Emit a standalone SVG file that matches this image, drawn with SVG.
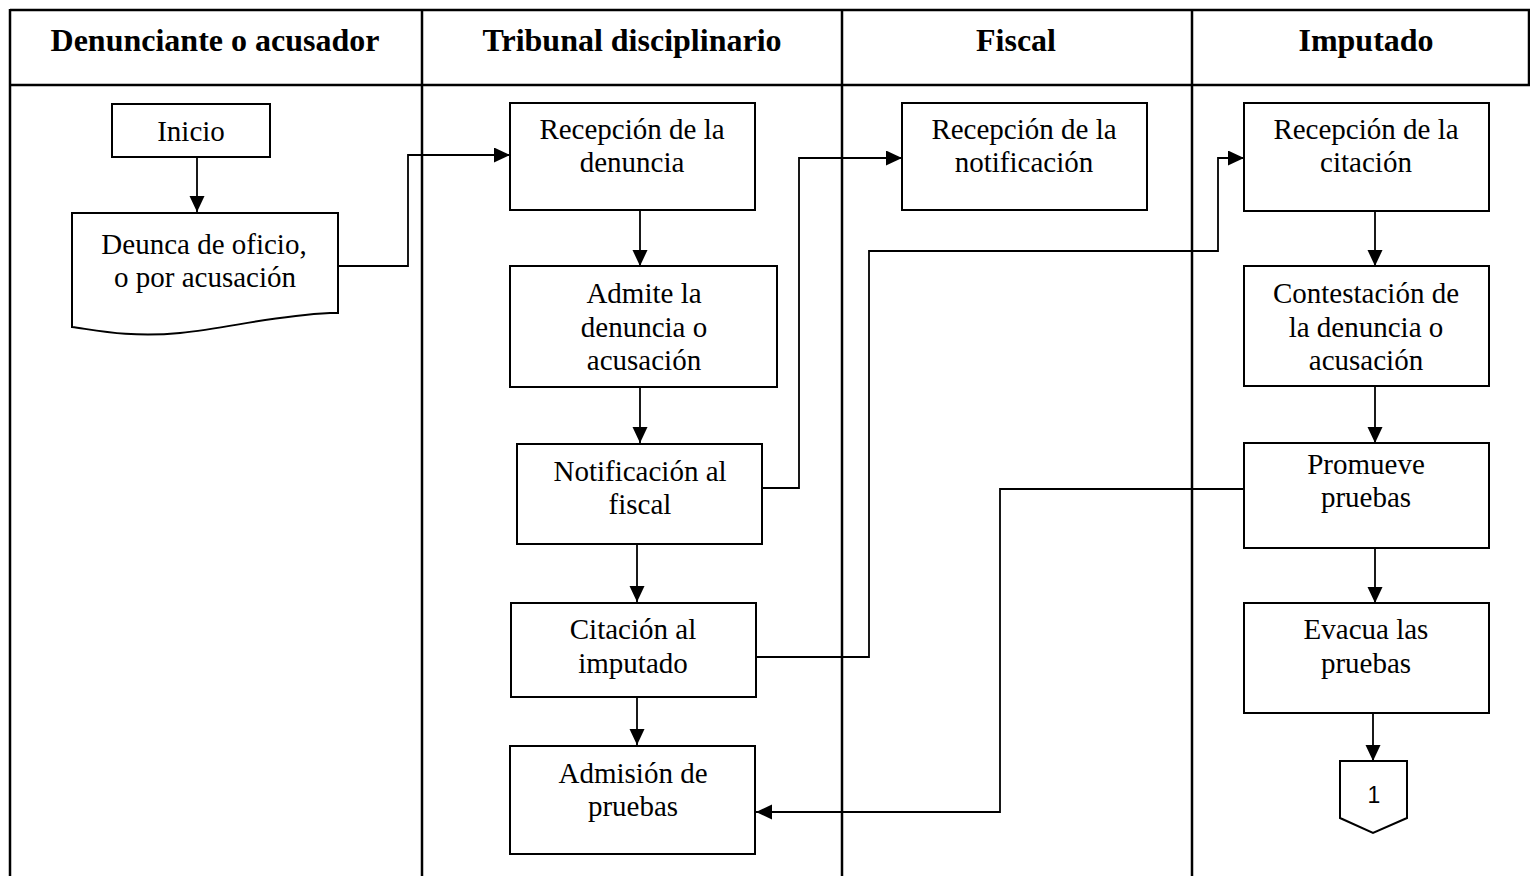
<svg xmlns="http://www.w3.org/2000/svg" width="1530" height="876" viewBox="0 0 1530 876">
<style>
.tbl{stroke:#000;stroke-width:2.5;fill:none}
.box{fill:#fff;stroke:#000;stroke-width:2}
.con{fill:none;stroke:#000;stroke-width:1.8}
.hd{font-family:'Liberation Serif',serif;font-weight:bold;font-size:32px;text-anchor:middle;fill:#000}
.t{font-family:'Liberation Serif',serif;font-size:29px;text-anchor:middle;fill:#000}
.n{font-family:'Liberation Sans',sans-serif;font-size:23px;text-anchor:middle;fill:#000}
</style>
<defs>
<marker id="ah" markerWidth="17" markerHeight="16" refX="16" refY="7.5" orient="auto" markerUnits="userSpaceOnUse">
<path d="M0,0 L16,7.5 L0,15 Z" fill="#000"/>
</marker>
</defs>
<rect width="1530" height="876" fill="#fff"/>
<g id="table">
<line class="tbl" x1="10" y1="10" x2="1530" y2="10"/>
<line class="tbl" x1="10" y1="85" x2="1530" y2="85"/>
<line class="tbl" x1="10" y1="9" x2="10" y2="876"/>
<line class="tbl" x1="422" y1="10" x2="422" y2="876"/>
<line class="tbl" x1="842" y1="10" x2="842" y2="876"/>
<line class="tbl" x1="1192" y1="10" x2="1192" y2="876"/>
<line class="tbl" x1="1529" y1="9" x2="1529" y2="86"/>
<text class="hd" x="215" y="51">Denunciante o acusador</text>
<text class="hd" x="632" y="51">Tribunal disciplinario</text>
<text class="hd" x="1016" y="51">Fiscal</text>
<text class="hd" x="1366" y="51">Imputado</text>
</g>
<g id="connectors">
<line class="con" x1="197" y1="157" x2="197" y2="212" marker-end="url(#ah)"/>
<polyline class="con" points="338,266 408,266 408,155 510,155" marker-end="url(#ah)"/>
<line class="con" x1="640" y1="210" x2="640" y2="266" marker-end="url(#ah)"/>
<line class="con" x1="640" y1="388" x2="640" y2="443" marker-end="url(#ah)"/>
<line class="con" x1="637" y1="544" x2="637" y2="602" marker-end="url(#ah)"/>
<line class="con" x1="637" y1="697" x2="637" y2="745" marker-end="url(#ah)"/>
<polyline class="con" points="762,488 799,488 799,158 902,158" marker-end="url(#ah)"/>
<polyline class="con" points="756,657 869,657 869,251 1218,251 1218,158 1244,158" marker-end="url(#ah)"/>
<polyline class="con" points="1244,489 1000,489 1000,812 756,812" marker-end="url(#ah)"/>
<line class="con" x1="1375" y1="211" x2="1375" y2="266" marker-end="url(#ah)"/>
<line class="con" x1="1375" y1="386" x2="1375" y2="443" marker-end="url(#ah)"/>
<line class="con" x1="1375" y1="548" x2="1375" y2="603" marker-end="url(#ah)"/>
<line class="con" x1="1373" y1="713" x2="1373" y2="761" marker-end="url(#ah)"/>
</g>
<g id="inicio">
<rect class="box" x="112" y="104" width="158" height="53"/>
<text class="t" x="191" y="141">Inicio</text>
</g>
<g id="denuncia-oficio">
<path class="box" d="M72,213 L338,213 L338,313 L330,313 C270,316 230,328 180,333 C130,338 95,330 72,327 Z"/>
<text class="t" x="204" y="254">Deunca de oficio,</text>
<text class="t" x="205" y="287">o por acusación</text>
</g>
<g id="recepcion-denuncia">
<rect class="box" x="510" y="103" width="245" height="107"/>
<text class="t" x="632" y="139">Recepción de la</text>
<text class="t" x="632" y="172">denuncia</text>
</g>
<g id="admite">
<rect class="box" x="510" y="266" width="267" height="121"/>
<text class="t" x="644" y="303">Admite la</text>
<text class="t" x="644" y="337">denuncia o</text>
<text class="t" x="644" y="370">acusación</text>
</g>
<g id="notificacion">
<rect class="box" x="517" y="444" width="245" height="100"/>
<text class="t" x="640" y="481">Notificación al</text>
<text class="t" x="640" y="514">fiscal</text>
</g>
<g id="citacion">
<rect class="box" x="511" y="603" width="245" height="94"/>
<text class="t" x="633" y="639">Citación al</text>
<text class="t" x="633" y="673">imputado</text>
</g>
<g id="admision">
<rect class="box" x="510" y="746" width="245" height="108"/>
<text class="t" x="633" y="783">Admisión de</text>
<text class="t" x="633" y="816">pruebas</text>
</g>
<g id="recepcion-notificacion">
<rect class="box" x="902" y="103" width="245" height="107"/>
<text class="t" x="1024" y="139">Recepción de la</text>
<text class="t" x="1024" y="172">notificación</text>
</g>
<g id="recepcion-citacion">
<rect class="box" x="1244" y="103" width="245" height="108"/>
<text class="t" x="1366" y="139">Recepción de la</text>
<text class="t" x="1366" y="172">citación</text>
</g>
<g id="contestacion">
<rect class="box" x="1244" y="266" width="245" height="120"/>
<text class="t" x="1366" y="303">Contestación de</text>
<text class="t" x="1366" y="337">la denuncia o</text>
<text class="t" x="1366" y="370">acusación</text>
</g>
<g id="promueve">
<rect class="box" x="1244" y="443" width="245" height="105"/>
<text class="t" x="1366" y="474">Promueve</text>
<text class="t" x="1366" y="507">pruebas</text>
</g>
<g id="evacua">
<rect class="box" x="1244" y="603" width="245" height="110"/>
<text class="t" x="1366" y="639">Evacua las</text>
<text class="t" x="1366" y="673">pruebas</text>
</g>
<g id="conector-1">
<path class="box" d="M1340,761 L1407,761 L1407,818 L1373,833 L1340,818 Z"/>
<text class="n" x="1374" y="803">1</text>
</g>
</svg>
